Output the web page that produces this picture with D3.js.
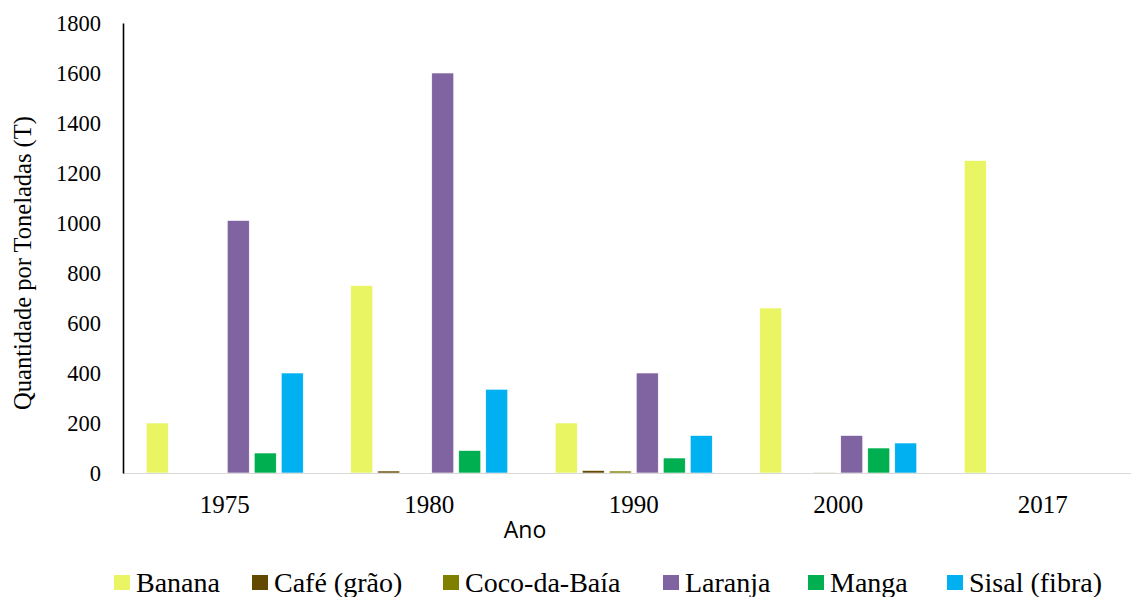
<!DOCTYPE html>
<html>
<head>
<meta charset="utf-8">
<script src="https://cdn.jsdelivr.net/npm/d3@7"></script>
<style>
  html, body { margin: 0; padding: 0; background: #fff; }
  svg { display: block; }
</style>
</head>
<body>
<svg id="theSvg"></svg>
<script>
// data
const years = ["1975", "1980", "1990", "2000", "2017"];
const series = ["Banana", "Café (grão)", "Coco-da-Baía", "Laranja", "Manga", "Sisal (fibra)"];
const banana  = [200, 750, 200, 660, 1250];
const cafe    = [0, 8, 10, 0, 0];
const coco    = [0, 0, 8, 3, 0];
const laranja = [1010, 1600, 400, 150, 0];
const manga   = [80, 90, 60, 100, 0];
const sisal   = [400, 335, 150, 120, 0];
const yTicks  = [0, 200, 400, 600, 800, 1000, 1200, 1400, 1600, 1800];

const colours = {
  "Banana": "#e9f562",
  "Café (grão)": "#634800",
  "Coco-da-Baía": "#808000",
  "Laranja": "#8064a2",
  "Manga": "#00b050",
  "Sisal (fibra)": "#00b0f0"
};

const serif = "'Liberation Serif', 'Times New Roman', serif";

const values = [banana, cafe, coco, laranja, manga, sisal];
const table = years.map((y, i) => {
  let row = {year: y};
  series.forEach((s, j) => row[s] = values[j][i]);
  return row;
});

const width = 1131, height = 597;
const margin = {top: 23, left: 123, bottom: 124};

const svg = d3.select("#theSvg")
  .attr("width", width)
  .attr("height", height)
  .attr("viewBox", [0, 0, width, height])
  .style("font-family", serif);

const x0 = d3.scaleBand()
  .domain(years)
  .range([122.5, 1145]);

const groupW = 157;
const x1 = d3.scaleBand()
  .domain(series)
  .range([0, groupW])
  .paddingInner(5 / 27);

const y = d3.scaleLinear()
  .domain([0, 1800])
  .range([height - margin.bottom, margin.top]);

// bars
const groups = svg.append("g")
  .selectAll("g")
  .data(table)
  .join("g")
  .attr("transform", d => "translate(" + (x0(d.year) + x0.bandwidth() / 2 - groupW / 2) + ",0)");

groups.selectAll("rect")
  .data(d => series.map(s => ({key: s, value: d[s]})))
  .join("rect")
  .attr("x", d => x1(d.key))
  .attr("width", x1.bandwidth())
  .attr("y", d => y(d.value))
  .attr("height", d => y(0) - y(d.value))
  .attr("fill", d => colours[d.key])
  .attr("stroke", "#fff")
  .attr("stroke-width", 0.6);

// x axis
const xAxis = svg.append("g")
  .attr("transform", "translate(0," + y(0) + ")")
  .call(d3.axisBottom(x0).tickSize(0).tickPadding(22))
  .call(g => g.select(".domain").attr("stroke", "#d9d9d9").attr("stroke-width", 1.2));
xAxis.attr("font-family", null);
xAxis.selectAll("text")
  .style("font-family", serif)
  .attr("font-size", 25)
  .attr("fill", "#000");

// y axis
const yAxis = svg.append("g")
  .attr("transform", "translate(" + margin.left + ",0)")
  .call(d3.axisLeft(y).tickValues(yTicks).tickFormat(d3.format("d")).tickSize(0).tickPadding(22).tickSizeOuter(0))
  .call(g => g.select(".domain").attr("stroke", "#000").attr("stroke-width", 1.6));
yAxis.attr("font-family", null);
yAxis.selectAll("text")
  .style("font-family", serif)
  .attr("font-size", 22.5)
  .attr("fill", "#000");

// axis titles
svg.append("text")
  .attr("transform", "translate(31," + 263 + ") rotate(-90)")
  .attr("text-anchor", "middle")
  .style("font-family", serif)
  .attr("font-size", 24.5)
  .text("Quantidade por Toneladas (T)");

svg.append("text")
  .attr("x", 525)
  .attr("y", 538)
  .attr("text-anchor", "middle")
  .style("font-family", "'Open Sans', sans-serif")
  .attr("font-size", 23)
  .text("Ano");

// legend
const legendX = [114, 252, 443, 663, 808, 947];
const legend = svg.append("g")
  .selectAll("g")
  .data(series)
  .join("g")
  .attr("transform", (d, i) => "translate(" + legendX[i] + ",575)");

legend.append("rect")
  .attr("width", 16)
  .attr("height", 15)
  .attr("fill", d => colours[d]);

legend.append("text")
  .attr("x", 22)
  .attr("y", 17)
  .style("font-family", serif)
  .attr("font-size", 28)
  .text(d => d);
</script>
</body>
</html>
